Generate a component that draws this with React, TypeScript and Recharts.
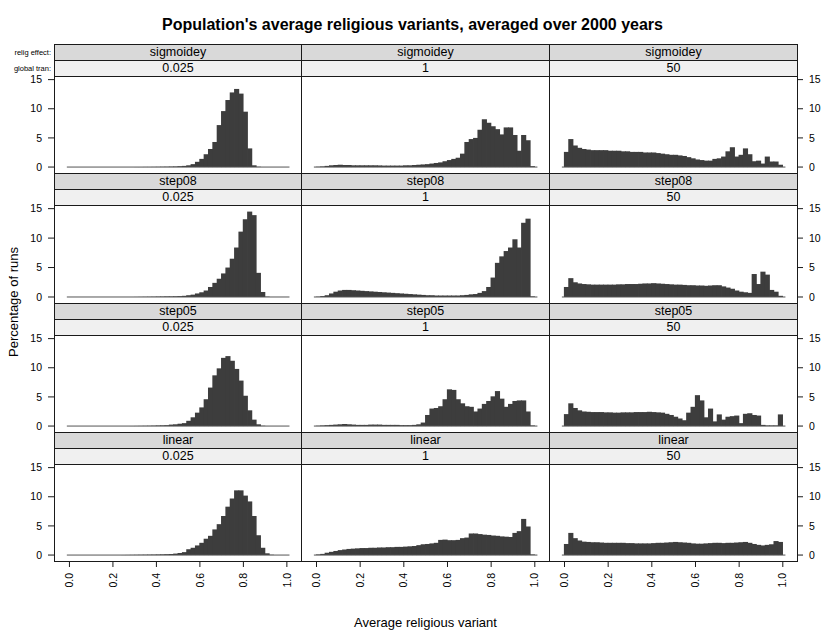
import { Bar, ComposedChart, ReferenceLine, XAxis, YAxis } from "recharts";

const FONT = '"Liberation Sans", Arial, Helvetica, sans-serif';

// bin centres of the histogram (bins 0.02 wide)
const binCenters = [
  0.01, 0.03, 0.05, 0.07, 0.09, 0.11, 0.13, 0.15, 0.17, 0.19,
  0.21, 0.23, 0.25, 0.27, 0.29, 0.31, 0.33, 0.35, 0.37, 0.39,
  0.41, 0.43, 0.45, 0.47, 0.49, 0.51, 0.53, 0.55, 0.57, 0.59,
  0.61, 0.63, 0.65, 0.67, 0.69, 0.71, 0.73, 0.75, 0.77, 0.79,
  0.81, 0.83, 0.85, 0.87, 0.89, 0.91, 0.93, 0.95, 0.97, 0.99,
];

const religEffects = ["sigmoidey", "step08", "step05", "linear"];
const globalTrans = ["0.025", "1", "50"];

const xTicks = [0, 0.2, 0.4, 0.6, 0.8, 1.0];
const yTicks = [0, 5, 10, 15];

// percentage of runs per bin
const sigmoidey025 = [0,0,0,0,0, 0,0,0,0,0, 0,0,0,0,0, 0.01,0.01,0.02,0.02,0.03, 0.04,0.05,0.06,0.08,0.1, 0.15,0.2,0.3,0.5,0.9, 1.4,2.2,3.1,4.3,7.2, 9.6,11.5,12.8,13.4,12.6, 9.5,3.2,0.3,0.05,0, 0,0,0,0,0];
const sigmoidey1 = [0.05,0.1,0.2,0.3,0.35, 0.4,0.35,0.35,0.3,0.3, 0.3,0.3,0.3,0.3,0.28, 0.25,0.25,0.25,0.25,0.25, 0.3,0.3,0.35,0.4,0.45, 0.5,0.6,0.7,0.8,1.0, 1.2,1.4,1.6,2.3,4.3, 4.8,5.0,6.4,8.2,7.6, 7.0,6.5,5.6,6.8,6.8, 5.5,2.8,5.5,4.6,0.15];
const sigmoidey50 = [2.6,4.8,3.7,3.3,3.1, 3.0,2.9,2.9,2.9,2.9, 2.8,2.8,2.8,2.7,2.7, 2.6,2.6,2.6,2.5,2.5, 2.5,2.4,2.3,2.2,2.1, 2.1,2.0,1.9,1.7,1.5, 1.3,1.2,1.1,1.1,1.4, 1.5,1.8,2.7,3.4,1.8, 2.1,3.2,2.2,1.0,1.1, 0.6,1.8,0.95,0.95,0.4];

const step08_025 = [0,0,0,0,0, 0,0,0,0,0, 0,0,0,0,0, 0.01,0.02,0.03,0.04,0.05, 0.07,0.08,0.1,0.1,0.12, 0.15,0.2,0.3,0.4,0.6, 0.8,1.1,1.7,2.4,3.1, 4.0,5.0,6.5,8.4,11.1, 13.2,14.5,13.9,4.1,0.85, 0.05,0,0,0,0];
const step08_1 = [0.05,0.15,0.3,0.6,0.9, 1.1,1.2,1.2,1.15,1.1, 1.05,1.0,0.95,0.9,0.85, 0.8,0.75,0.7,0.65,0.6, 0.55,0.5,0.45,0.4,0.35, 0.3,0.3,0.25,0.25,0.25, 0.25,0.25,0.25,0.3,0.35, 0.45,0.5,0.7,1.0,1.7, 3.3,5.8,6.9,7.8,8.4, 9.8,8.4,12.6,13.3,0.1];
const step08_50 = [1.7,3.2,2.5,2.3,2.2, 2.15,2.1,2.1,2.1,2.1, 2.1,2.1,2.15,2.15,2.2, 2.2,2.2,2.25,2.3,2.3, 2.35,2.3,2.25,2.2,2.15, 2.1,2.1,2.05,2.0,2.0, 1.95,1.95,1.9,1.95,2.0, 2.0,1.8,1.6,1.4,1.1, 0.9,0.8,0.7,3.9,2.2, 4.3,3.8,1.2,0.9,0.2];

const step05_025 = [0,0,0,0,0, 0,0,0,0,0, 0,0,0,0,0.01, 0.02,0.03,0.04,0.05,0.07, 0.1,0.12,0.15,0.25,0.3, 0.4,0.5,0.9,1.5,2.3, 3.2,4.6,6.6,8.7,9.9, 11.7,12.0,11.2,9.8,7.8, 5.2,2.7,1.1,0.3,0.05, 0,0,0,0,0];
const step05_1 = [0.05,0.1,0.15,0.2,0.25, 0.3,0.35,0.3,0.25,0.2, 0.2,0.2,0.25,0.25,0.25, 0.2,0.2,0.2,0.2,0.15, 0.15,0.15,0.2,0.3,0.6, 1.9,3.0,3.1,3.4,4.6, 6.3,6.2,4.6,3.9,3.4, 3.3,2.5,3.0,3.8,4.3, 5.1,6.0,4.7,3.3,3.8, 4.3,4.4,4.4,2.5,0.1];
const step05_50 = [2.05,3.9,3.1,2.7,2.5, 2.45,2.4,2.4,2.4,2.35, 2.35,2.3,2.3,2.35,2.35, 2.35,2.4,2.4,2.4,2.45, 2.4,2.35,2.3,2.1,1.9, 1.6,1.3,1.0,2.3,3.3, 5.3,4.4,1.5,3.0,0.8, 2.0,1.1,1.6,1.7,1.8, 0.5,2.1,2.2,1.9,1.8, 0.2,0.1,0.1,0.1,2.0];

const linear025 = [0,0,0,0,0, 0,0,0,0,0, 0,0,0.01,0.02,0.03, 0.04,0.05,0.06,0.07,0.08, 0.1,0.12,0.15,0.18,0.25, 0.35,0.5,1.0,1.25,1.65, 2.1,2.8,3.3,4.4,5.3, 6.7,8.3,9.7,11.1,11.1, 10.2,9.2,6.7,3.4,1.25, 0.3,0.05,0,0,0];
const linear1 = [0.1,0.2,0.4,0.55,0.7, 0.85,0.95,1.05,1.1,1.15, 1.2,1.2,1.25,1.25,1.3, 1.3,1.35,1.35,1.4,1.4, 1.45,1.5,1.55,1.7,1.85, 1.9,2.0,2.1,2.6,2.65, 2.55,2.55,2.6,2.9,3.0, 3.7,3.7,3.6,3.5,3.45, 3.35,3.3,3.2,3.15,3.1, 3.8,4.1,6.2,4.9,0.1];
const linear50 = [1.9,3.8,2.9,2.5,2.3, 2.25,2.2,2.2,2.15,2.1, 2.1,2.1,2.1,2.1,2.05, 2.05,2.0,2.0,2.0,2.0, 2.05,2.1,2.1,2.15,2.2, 2.25,2.2,2.15,2.1,2.0, 1.95,1.95,2.0,2.05,2.1, 2.1,2.05,2.1,2.1,2.15, 2.2,2.25,2.1,1.9,1.75, 1.65,1.75,1.85,2.4,2.25];

const panelValues = [
  [sigmoidey025, sigmoidey1, sigmoidey50],
  [step08_025, step08_1, step08_50],
  [step05_025, step05_1, step05_50],
  [linear025, linear1, linear50],
];

// layout of the lattice
const COL_X = [54, 301, 549];
const COL_W = [247, 248, 248];
const ROW_TOP = [44, 173, 303, 432];
const PLOT_BOTTOM = [173, 303, 432, 561];
const STRIP_H = 16;
const PAD_L = 50;
const PAD_R = 40;
const PAD_B = 40;
const PAD_T = 10;
const LINE = "#1a1a1a";
const BAR = "#3d3d3d";

function XTick(props: any) {
  const { x, y, payload } = props;
  const ty = y + 4;
  return (
    <text
      x={x}
      y={ty}
      transform={`rotate(-90, ${x}, ${ty})`}
      textAnchor="end"
      dy="0.35em"
      fontSize={10.5}
      fontFamily={FONT}
      fill="#000"
    >
      {Number(payload.value).toFixed(1)}
    </text>
  );
}

// histogram bar, widened a touch so neighbouring bins join without seams
function HistBar(props: any) {
  const { x, y, width, height } = props;
  if (!height || height <= 0) return null;
  return <rect x={x - 0.6} y={y} width={width + 1.2} height={height} fill={BAR} />;
}

function PanelChart({ row, col }: { row: number; col: number }) {
  const values = panelValues[row][col];
  const data = binCenters.map((x, i) => ({ x, pct: values[i] }));
  const w = COL_W[col];
  const plotTop = ROW_TOP[row] + 2 * STRIP_H;
  const plotH = PLOT_BOTTOM[row] - plotTop;
  const showLeft = col === 0;
  const showRight = col === 2;
  const showBottom = row === 3;
  return (
    <div style={{ position: "absolute", left: COL_X[col] - PAD_L, top: plotTop - PAD_T }}>
      <ComposedChart
        width={w + PAD_L + PAD_R}
        height={plotH + PAD_B + PAD_T}
        data={data}
        margin={{
          top: PAD_T,
          left: showLeft ? PAD_L - 40 : PAD_L,
          right: showRight ? PAD_R - 40 : PAD_R,
          bottom: showBottom ? PAD_B - 35 : PAD_B,
        }}
        barCategoryGap={0}
        barGap={0}
      >
        <XAxis
          type="number"
          dataKey="x"
          domain={[-0.071, 1.065]}
          allowDataOverflow
          ticks={xTicks}
          interval={0}
          hide={!showBottom}
          height={35}
          tickSize={6}
          axisLine={false}
          tickLine={{ stroke: LINE }}
          tick={<XTick />}
        />
        <YAxis
          type="number"
          domain={[-1.02, 15.62]}
          allowDataOverflow
          ticks={yTicks}
          interval={0}
          orientation={showRight ? "right" : "left"}
          hide={!(showLeft || showRight)}
          width={40}
          tickSize={6}
          tickMargin={6}
          axisLine={false}
          tickLine={{ stroke: LINE }}
          tick={{ fontSize: 10.5, fill: "#000", fontFamily: FONT }}
        />
        <ReferenceLine
          segment={[
            { x: -0.012, y: 0 },
            { x: 1.012, y: 0 },
          ]}
          stroke="#555"
          strokeWidth={1}
        />
        <Bar
          dataKey="pct"
          fill={BAR}
          barSize={4.4}
          shape={<HistBar />}
          isAnimationActive={false}
        />
      </ComposedChart>
    </div>
  );
}

function box(left: number, top: number, width: number, height: number, bg: string) {
  return {
    position: "absolute" as const,
    left,
    top,
    width: width + 1,
    height: height + 1,
    boxSizing: "border-box" as const,
    border: `1px solid ${LINE}`,
    background: bg,
    fontFamily: FONT,
    fontSize: 12.5,
    lineHeight: `${height - 1}px`,
    textAlign: "center" as const,
    color: "#000",
  };
}

function PanelFrame({ row, col }: { row: number; col: number }) {
  const x0 = COL_X[col];
  const w = COL_W[col];
  const top = ROW_TOP[row];
  const plotTop = top + 2 * STRIP_H;
  return (
    <>
      <div style={box(x0, top, w, STRIP_H, "#d9d9d9")}>{religEffects[row]}</div>
      <div style={box(x0, top + STRIP_H, w, STRIP_H, "#f0f0f0")}>{globalTrans[col]}</div>
      <div style={box(x0, plotTop, w, PLOT_BOTTOM[row] - plotTop, "transparent")} />
    </>
  );
}

export default function App() {
  const cells: { row: number; col: number }[] = [];
  religEffects.forEach((_, row) => globalTrans.forEach((__, col) => cells.push({ row, col })));
  return (
    <div
      style={{
        position: "absolute",
        left: 0,
        top: 0,
        width: 825,
        height: 635,
        background: "#fff",
        fontFamily: FONT,
      }}
    >
      {cells.map((c) => (
        <PanelChart key={`c${c.row}-${c.col}`} row={c.row} col={c.col} />
      ))}
      {cells.map((c) => (
        <PanelFrame key={`f${c.row}-${c.col}`} row={c.row} col={c.col} />
      ))}
      <svg
        width={825}
        height={635}
        style={{ position: "absolute", left: 0, top: 0, pointerEvents: "none" }}
      >
        <text x={412.5} y={30} textAnchor="middle" fontSize={16} fontWeight="bold" fontFamily={FONT}>
          Population's average religious variants, averaged over 2000 years
        </text>
        <text x={51} y={52} dy="0.35em" textAnchor="end" fontSize={7.5} fontFamily={FONT} fill="#000">
          relig effect:
        </text>
        <text x={51} y={68} dy="0.35em" textAnchor="end" fontSize={7.5} fontFamily={FONT} fill="#000">
          global tran:
        </text>
        <text
          x={13}
          y={302}
          transform="rotate(-90, 13, 302)"
          textAnchor="middle"
          dy="0.35em"
          fontSize={13}
          fontFamily={FONT}
        >
          Percentage of runs
        </text>
        <text x={425.5} y={627} textAnchor="middle" fontSize={13} fontFamily={FONT}>
          Average religious variant
        </text>
      </svg>
    </div>
  );
}
